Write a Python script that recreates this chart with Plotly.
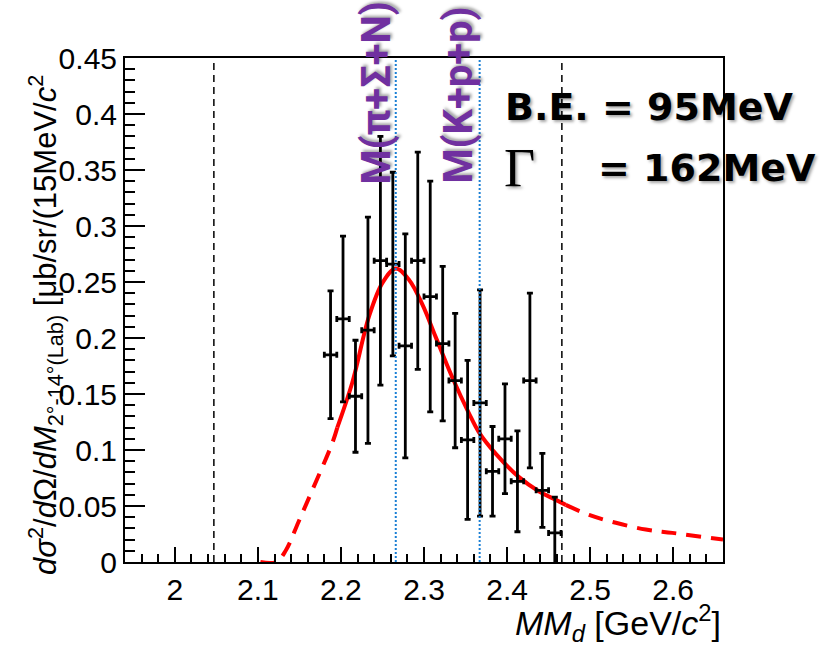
import plotly.graph_objects as go

# ---------------- data ----------------
bin_centers = [2.1875, 2.2025, 2.2175, 2.2325, 2.2475, 2.2625, 2.2775, 2.2925, 2.3075, 2.3225,
               2.3375, 2.3525, 2.3675, 2.3825, 2.3975, 2.4125, 2.4275, 2.4425, 2.4575]
cross_section = [0.185, 0.217, 0.148, 0.207, 0.269, 0.266, 0.193, 0.269, 0.237, 0.195,
                 0.162, 0.109, 0.142, 0.081, 0.110, 0.072, 0.162, 0.064, 0.026]
stat_error = [0.057, 0.074, 0.050, 0.101, 0.111, 0.082, 0.100, 0.097, 0.103, 0.069,
              0.060, 0.071, 0.101, 0.040, 0.049, 0.045, 0.078, 0.033, 0.032]
bin_half_width = [0.0075] * len(bin_centers)

# fit curve
fit_left_x = [2.103, 2.122, 2.1334, 2.149, 2.1654, 2.1895, 2.1956]
fit_left_y = [0.0, 0.0, 0.010, 0.036, 0.064, 0.106, 0.120]
fit_mid_x = [2.1956, 2.2136, 2.2337, 2.2498, 2.2659, 2.2819, 2.298, 2.314, 2.334,
             2.354, 2.366, 2.386, 2.414, 2.4386, 2.4546, 2.4707]
fit_mid_y = [0.120, 0.160, 0.219, 0.249, 0.262, 0.252, 0.230, 0.201, 0.165,
             0.133, 0.116, 0.097, 0.076, 0.063, 0.057, 0.051]
fit_right_x = [2.4707, 2.4988, 2.531, 2.567, 2.599, 2.66]
fit_right_y = [0.051, 0.042, 0.035, 0.029, 0.026, 0.020]

fit_range_lines = [2.047, 2.466]
threshold_lines = [2.266, 2.367]
threshold_labels = ["M(π+Σ+N)", "M(K+p+p)"]
threshold_label_x = [2.2434, 2.341]

x_tick_vals = [2.0, 2.1, 2.2, 2.3, 2.4, 2.5, 2.6]
x_tick_text = ["2", "2.1", "2.2", "2.3", "2.4", "2.5", "2.6"]
y_tick_vals = [0, 0.05, 0.1, 0.15, 0.2, 0.25, 0.3, 0.35, 0.4, 0.45]
y_tick_text = ["0", "0.05", "0.1", "0.15", "0.2", "0.25", "0.3", "0.35", "0.4", "0.45"]

RED = "#ff0000"
PURPLE = "#7030a0"
BLUE = "#1a7fd4"

fig = go.Figure()

fig.add_trace(go.Scatter(x=fit_left_x, y=fit_left_y, mode="lines", line_shape="spline",
                         line=dict(color=RED, width=4, dash="15px,10px"), hoverinfo="skip"))
fig.add_trace(go.Scatter(x=fit_mid_x, y=fit_mid_y, mode="lines", line_shape="spline",
                         line=dict(color=RED, width=4), hoverinfo="skip"))
fig.add_trace(go.Scatter(x=fit_right_x, y=fit_right_y, mode="lines", line_shape="spline",
                         line=dict(color=RED, width=4, dash="15px,10px"), hoverinfo="skip"))

fig.add_trace(go.Scatter(
    x=bin_centers, y=cross_section, mode="markers",
    marker=dict(color="black", size=2),
    error_y=dict(type="data", array=stat_error, color="black", thickness=2.8, width=3),
    error_x=dict(type="data", array=bin_half_width, color="black", thickness=2.8, width=3),
))

shapes = []
for xv in fit_range_lines:
    shapes.append(dict(type="line", xref="x", yref="paper", x0=xv, x1=xv, y0=0, y1=1,
                       line=dict(color="black", width=1.5, dash="7px,5px")))
for xv in threshold_lines:
    shapes.append(dict(type="line", xref="x", yref="paper", x0=xv, x1=xv, y0=0, y1=1,
                       line=dict(color=BLUE, width=2, dash="2px,2px")))

PW, PH = 598.0, 504.0

annotations = []
shadow = "2px 2px 3px rgba(0,0,0,0.35)"
for lbl, xv in zip(threshold_labels, threshold_label_x):
    annotations.append(dict(text=lbl, x=xv, xref="x", y=(562 - 186) / PH, yref="paper",
                            xanchor="center", yanchor="bottom", textangle=-90, showarrow=False,
                            font=dict(family="Roboto", size=40, color=PURPLE, weight="bold",
                                      shadow=shadow)))

annotations.append(dict(text="B.E. = 95MeV", x=(503 - 125) / PW, xref="paper",
                        y=(562 - 107) / PH, yref="paper", xanchor="left", yanchor="middle",
                        showarrow=False,
                        font=dict(family="DejaVu Sans", size=38, color="black", weight="bold",
                                  shadow=shadow)))
annotations.append(dict(text="Γ", x=(502 - 125) / PW, xref="paper",
                        y=(562 - 168) / PH, yref="paper", xanchor="left", yanchor="middle",
                        showarrow=False,
                        font=dict(family="Liberation Serif", size=54, color="black",
                                  shadow=shadow)))
annotations.append(dict(text="= 162MeV", x=(596 - 125) / PW, xref="paper",
                        y=(562 - 168) / PH, yref="paper", xanchor="left", yanchor="middle",
                        showarrow=False,
                        font=dict(family="DejaVu Sans", size=38, color="black", weight="bold",
                                  shadow=shadow)))

annotations.append(dict(
    text="<i>d</i><i>σ</i><sup>2</sup>/<i>d</i>Ω/<i>dM</i><sub>2°-14°(Lab)</sub> [μb/sr/(15MeV/<i>c</i><sup>2</sup>",
    x=(45 - 125) / PW, xref="paper", y=(562 - 325) / PH, yref="paper",
    xanchor="center", yanchor="middle", textangle=-90, showarrow=False,
    font=dict(family="Liberation Sans", size=31, color="black")))
annotations.append(dict(
    text="<i>MM</i><sub><i>d</i></sub> [GeV/<i>c</i><sup>2</sup>]",
    x=1.0, xref="paper", y=(562 - 623) / PH, yref="paper",
    xanchor="right", yanchor="middle", showarrow=False,
    font=dict(family="Liberation Sans", size=34, color="black")))

fig.update_layout(
    width=823, height=646,
    margin=dict(l=125, r=100, t=58, b=84),
    paper_bgcolor="white", plot_bgcolor="white",
    showlegend=False,
    shapes=shapes, annotations=annotations,
    xaxis=dict(range=[1.94, 2.66], tickvals=x_tick_vals, ticktext=x_tick_text,
               ticks="inside", ticklen=15, tickwidth=1.5, tickcolor="black",
               showline=True, linecolor="black", linewidth=2, mirror=True,
               showgrid=False, zeroline=False,
               tickfont=dict(family="Liberation Sans", size=30, color="black"),
               minor=dict(dtick=0.02, tick0=2.0, ticks="inside", ticklen=8, tickwidth=1.5,
                          tickcolor="black", showgrid=False)),
    yaxis=dict(range=[0, 0.45], tickvals=y_tick_vals, ticktext=y_tick_text,
               ticks="inside", ticklen=20, tickwidth=1.5, tickcolor="black",
               showline=True, linecolor="black", linewidth=2, mirror=True,
               showgrid=False, zeroline=False,
               tickfont=dict(family="Liberation Sans", size=30, color="black"),
               minor=dict(dtick=0.01, tick0=0, ticks="inside", ticklen=10, tickwidth=1.5,
                          tickcolor="black", showgrid=False)),
)

fig.write_html("out.html")
